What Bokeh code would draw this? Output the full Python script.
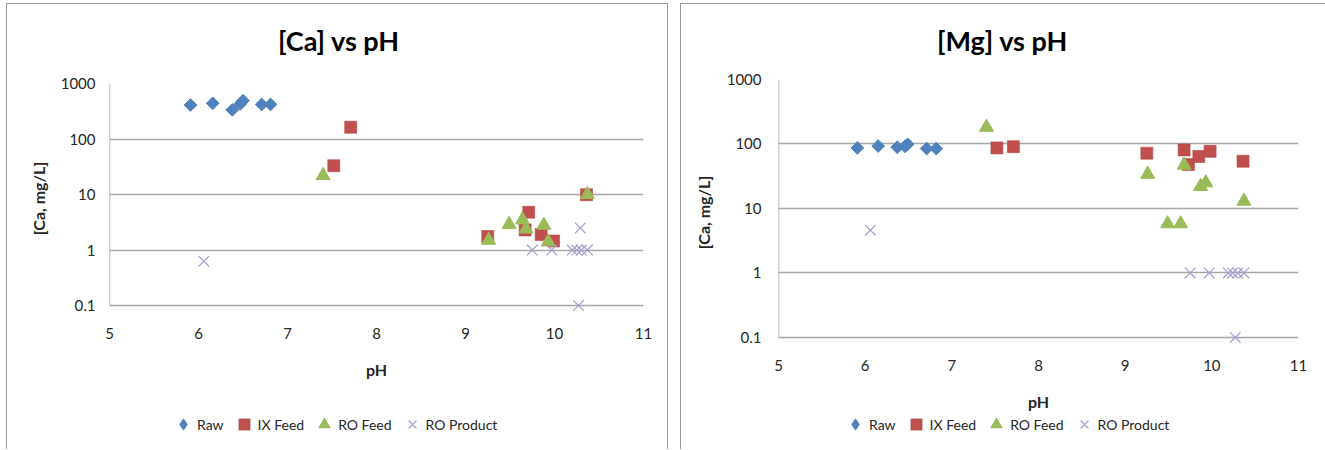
import math
from bokeh.plotting import figure
from bokeh.layouts import row, column
from bokeh.models import FixedTicker, CustomJSTickFormatter, Legend, LegendItem, Range1d, Spacer, Label
from bokeh.embed import file_html
from bokeh.resources import INLINE

# ---------------- data ----------------
ca_raw_ph = [5.91, 6.16, 6.38, 6.47, 6.50, 6.71, 6.81]
ca_raw = [410, 440, 335, 430, 490, 420, 420]
ca_ix_ph = [7.52, 7.71, 9.25, 9.67, 9.71, 9.85, 9.99, 10.36]
ca_ix = [33, 163, 1.75, 2.3, 4.8, 1.9, 1.45, 9.9]
ca_ro_ph = [7.40, 9.26, 9.49, 9.64, 9.68, 9.88, 9.93, 10.37]
ca_ro = [22, 1.5, 2.9, 3.5, 2.4, 2.8, 1.4, 10]
ca_prod_ph = [6.06, 9.75, 9.97, 10.20, 10.25, 10.29, 10.30, 10.37, 10.27]
ca_prod = [0.63, 1, 1, 1, 1, 2.5, 1, 1, 0.1]

mg_raw_ph = [5.91, 6.15, 6.37, 6.46, 6.49, 6.71, 6.82]
mg_raw = [87, 93, 89, 92, 99, 85, 85]
mg_ix_ph = [7.52, 7.71, 9.25, 9.68, 9.73, 9.85, 9.98, 10.36]
mg_ix = [87, 91, 72, 81, 48, 64, 77, 54]
mg_ro_ph = [7.40, 9.26, 9.49, 9.64, 9.68, 9.87, 9.93, 10.37]
mg_ro = [182, 34, 5.8, 5.8, 47, 22, 25, 13]
mg_prod_ph = [6.06, 9.75, 9.97, 10.19, 10.24, 10.30, 10.37, 10.27]
mg_prod = [4.6, 1, 1, 1, 1, 1, 1, 0.1]

titles = ["[Ca] vs pH", "[Mg] vs pH"]
y_label = "[Ca, mg/L]"
x_label = "pH"
series_names = ["Raw", "IX Feed", "RO Feed", "RO Product"]
x_ticks = [5, 6, 7, 8, 9, 10, 11]
y_ticks = [0.1, 1, 10, 100, 1000]

C_RAW = "#4F81BD"
C_IX = "#C0504D"
C_RO = "#9BBB59"
C_PROD = "#A99CD3"
FONT = "Lato"
GRID = "#a6a6a6"
TXT = "#262626"
BORDER = "1px solid #9a9a9a"


def add_series(p, data, legend_keys=False):
    (rx, ry), (ix, iy), (ox, oy), (px, py) = data
    if legend_keys:
        r1 = p.scatter(rx, ry, marker="diamond", size=14,
                       fill_color=C_RAW, line_color=C_RAW)
    else:
        r1 = p.scatter(rx, ry, marker="square", angle=math.pi / 4, size=9,
                       fill_color=C_RAW, line_color=C_RAW)
    r2 = p.scatter(ix, iy, marker="square", size=12,
                   fill_color=C_IX, line_color="#b84a47", line_alpha=0.6)
    r3 = p.scatter(ox, oy, marker="triangle", size=14,
                   fill_color=C_RO, line_color=C_RO)
    r4 = p.scatter(px, py, marker="x", size=15, line_color=C_PROD, line_width=1.2)
    return [r1, r2, r3, r4]


def blank_fig(width, height, xr, yr, styles):
    # frames of figures stacked in one column are aligned with the chart frame
    f = figure(width=width, height=height, output_backend="svg", toolbar_location=None,
               x_range=xr, y_range=yr,
               x_axis_type=None, y_axis_type=None, title=None,
               min_border=0, min_border_left=0, min_border_right=0,
               min_border_top=0, min_border_bottom=0, styles=styles)
    f.outline_line_color = None
    f.grid.visible = False
    return f


def make_title_fig(text, width, height, frame_w, cx, cy_from_top, styles):
    f = blank_fig(width, height, Range1d(0, frame_w), Range1d(0, height), styles)
    f.add_layout(Label(x=cx, y=height - cy_from_top, text=text,
                       text_align="center", text_baseline="middle",
                       text_font=FONT, text_font_size="27px",
                       text_font_style="bold", text_color="#000000"))
    return f


def make_panel(data, width, height, ymin, bl, br, bt, bb,
               ystand, ylab_stand, xstand, xlab_stand, styles):
    p = figure(width=width, height=height, output_backend="svg",
               toolbar_location=None, y_axis_type="log", title=None,
               x_range=Range1d(5, 11), y_range=Range1d(ymin, 1000),
               min_border_left=bl, min_border_right=br,
               min_border_top=bt, min_border_bottom=bb, styles=styles)
    p.outline_line_color = None
    p.xgrid.visible = False
    p.ygrid.grid_line_color = GRID
    p.ygrid.grid_line_width = 1.5
    p.yaxis.ticker = FixedTicker(ticks=y_ticks)
    p.xaxis.ticker = FixedTicker(ticks=x_ticks)
    p.yaxis.formatter = CustomJSTickFormatter(code="return String(Math.round(tick*10)/10);")
    for ax in (p.xaxis, p.yaxis):
        ax.major_tick_line_color = None
        ax.minor_tick_line_color = None
        ax.major_tick_out = 0
        ax.major_tick_in = 0
        ax.minor_tick_out = 0
        ax.minor_tick_in = 0
        ax.axis_line_color = None
        ax.major_label_text_font = FONT
        ax.major_label_text_font_size = "15px"
        ax.major_label_text_color = TXT
        ax.axis_label_text_font = FONT
        ax.axis_label_text_font_size = "16px"
        ax.axis_label_text_font_style = "bold"
        ax.axis_label_text_color = TXT
    p.yaxis.major_label_standoff = ystand
    p.xaxis.major_label_standoff = xstand
    p.xaxis.axis_label = x_label
    p.xaxis.axis_label_standoff = xlab_stand
    p.yaxis.axis_label = y_label
    p.yaxis.axis_label_standoff = ylab_stand

    # vertical value axis line from lowest to highest tick
    p.segment(x0=[x_ticks[0]], y0=[y_ticks[0]], x1=[x_ticks[0]], y1=[y_ticks[-1]],
              line_color=GRID, line_width=1.5)
    add_series(p, data)
    return p


def make_legend_fig(data, width, height, loc, styles):
    # series data lies outside this strip's 0..1 ranges, so only the legend shows
    f = blank_fig(width, height, Range1d(0, 1), Range1d(0, 1), styles)
    rs = add_series(f, data, legend_keys=True)
    legend = Legend(items=[LegendItem(label=n, renderers=[r])
                           for n, r in zip(series_names, rs)],
                    orientation="horizontal", location=loc,
                    padding=0, margin=0, spacing=6, label_standoff=0,
                    glyph_width=28, glyph_height=28, label_height=20,
                    label_text_font=FONT, label_text_font_size="14px",
                    label_text_color=TXT, border_line_color=None,
                    background_fill_alpha=0)
    f.add_layout(legend, "center")
    return f


ca_data = ((ca_raw_ph, ca_raw), (ca_ix_ph, ca_ix), (ca_ro_ph, ca_ro), (ca_prod_ph, ca_prod))
mg_data = ((mg_raw_ph, mg_raw), (mg_ix_ph, mg_ix), (mg_ro_ph, mg_ro), (mg_prod_ph, mg_prod))

# left panel: x 6..668, y 3..449
t1 = make_title_fig(titles[0], 662, 60, 532, 228.5, 36,
                    {"border-top": BORDER, "border-left": BORDER, "border-right": BORDER,
                     "box-sizing": "border-box"})
p1 = make_panel(ca_data, 662, 342, 0.0718, 102, 26, 20, 92, 14, 10, 14, 18,
                {"border-left": BORDER, "border-right": BORDER, "box-sizing": "border-box"})
l1 = make_legend_fig(ca_data, 662, 44, (60, 11),
                     {"border-left": BORDER, "border-right": BORDER, "box-sizing": "border-box"})
# right panel: x 680..1325
t2 = make_title_fig(titles[1], 645, 60, 519, 223.5, 36,
                    {"border-top": BORDER, "border-left": BORDER, "box-sizing": "border-box"})
p2 = make_panel(mg_data, 645, 352, 0.0751, 97, 28, 16, 70, 17, 11, 14, 18,
                {"border-left": BORDER, "box-sizing": "border-box"})
l2 = make_legend_fig(mg_data, 645, 34, (63, 11),
                     {"border-left": BORDER, "box-sizing": "border-box"})

layout = column(Spacer(height=3),
                row(Spacer(width=6), column(t1, p1, l1, spacing=0), Spacer(width=12),
                    column(t2, p2, l2, spacing=0), spacing=0),
                spacing=0)
open("out.html", "w").write(file_html(layout, INLINE))
